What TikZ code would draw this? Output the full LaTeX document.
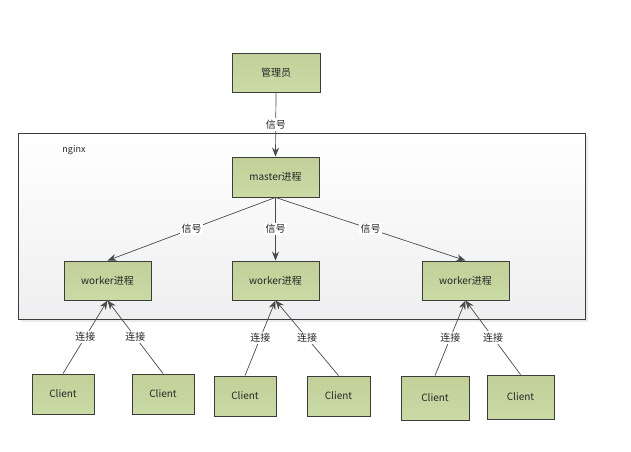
\documentclass[tikz,border=0pt]{standalone}
\usepackage{fontspec}
\setmainfont{Noto Sans CJK SC}
\usetikzlibrary{arrows.meta}
\definecolor{boxfill}{HTML}{C6D59E}
\definecolor{boxtop}{HTML}{C2CF98}
\definecolor{boxbot}{HTML}{CADBA6}
\definecolor{edgecol}{HTML}{3C3C3C}
\definecolor{txt}{HTML}{262626}
\definecolor{linecol}{HTML}{4A4A4A}
\definecolor{contbot}{HTML}{EFEFF1}
\begin{document}
\begin{tikzpicture}[x=1pt,y=-1pt,
  font=\fontsize{10}{12}\selectfont,
  gbox/.style={draw=edgecol,line width=0.9pt,top color=boxtop,bottom color=boxbot,
    text=txt,inner sep=0pt,minimum width=87pt,minimum height=39pt},
  cbox/.style={gbox,minimum width=62pt,minimum height=40pt},
  conn/.style={draw=linecol,line width=0.7pt,-{Stealth[length=9pt,width=7pt]}},
  lbl/.style={fill=white,inner sep=1.5pt,text=txt}
]
\useasboundingbox (0,0) rectangle (631,451);
% container
\fill[black!8] (21,136) rectangle (588,322);
\draw[draw=edgecol,line width=0.9pt,top color=white,bottom color=contbot] (18,133) rectangle (585,319);
\node[text=txt,font=\fontsize{9}{11}\selectfont] (nginxlbl) at (74,150) {nginx};

\node[gbox,minimum width=88pt] (admin) at (276,72.5) {管理员};
\node[gbox,minimum height=40pt] (master) at (275.5,177) {master进程};
\node[gbox] (w1) at (107.5,280.5) {worker进程};
\node[gbox] (w2) at (275.5,280.5) {worker进程};
\node[gbox] (w3) at (465.5,280.5) {worker进程};

\node[cbox] (c1) at (63,394) {Client};
\node[cbox] (c2) at (163,394) {Client};
\node[cbox] (c3) at (245,396) {Client};
\node[cbox,minimum width=63pt] (c4) at (338.5,396) {Client};
\node[cbox,minimum width=68pt,minimum height=44pt] (c5) at (435,398) {Client};
\node[cbox,minimum width=67pt,minimum height=44pt] (c6) at (520.5,397) {Client};

\draw[conn] (admin.south) -- node[lbl]{信号} (master.north);
\draw[conn] (master.south) -- node[lbl]{信号} (w1.north);
\draw[conn] (master.south) -- node[lbl]{信号} (w2.north);
\draw[conn] (master.south) -- node[lbl]{信号} (w3.north);

\draw[conn] (c1.north) -- node[lbl]{连接} (w1.south);
\draw[conn] (c2.north) -- node[lbl]{连接} (w1.south);
\draw[conn] (c3.north) -- node[lbl]{连接} (w2.south);
\draw[conn] (c4.north) -- node[lbl]{连接} (w2.south);
\draw[conn] (c5.north) -- node[lbl]{连接} (w3.south);
\draw[conn] (c6.north) -- node[lbl]{连接} (w3.south);
\end{tikzpicture}
\end{document}
